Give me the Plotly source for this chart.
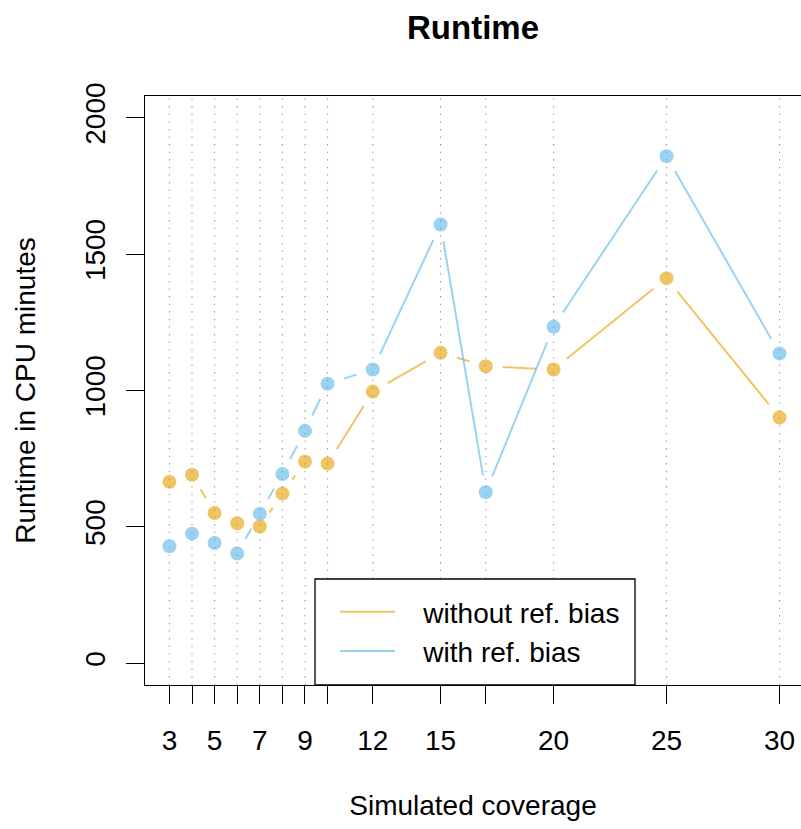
import plotly.graph_objects as go

# Simulated coverage levels and runtimes (CPU minutes)
coverage = [3, 4, 5, 6, 7, 8, 9, 10, 12, 15, 17, 20, 25, 30]
runtime_without_bias = [665, 691, 551, 513, 501, 622, 739, 732, 996, 1138, 1089, 1077, 1412, 901]
runtime_with_bias = [429, 475, 441, 402, 548, 694, 852, 1025, 1077, 1609, 627, 1234, 1859, 1136]
series_names = ["without ref. bias", "with ref. bias"]
series_colors = ["rgba(230,159,0,0.62)", "rgba(86,180,233,0.6)"]

x_tick_labels = ["3", "", "5", "", "7", "", "9", "", "12", "15", "", "20", "25", "30"]
y_ticks = [0, 500, 1000, 1500, 2000]

# Page geometry
W, H = 801, 829
ML, MR, MT, MB = 145, 0, 96, 144
X_RANGE = [1.92, 30.95]
Y_RANGE = [-80, 2080]
PW, PH = W - ML - MR, H - MT - MB
sx = PW / (X_RANGE[1] - X_RANGE[0])
sy = PH / (Y_RANGE[1] - Y_RANGE[0])
GAP = 17  # px left open around each point on the connecting lines
LEGEND_PAD = "\u00a0\u00a0\u00a0"  # space between legend line sample and label


def gapped_segments(xs, ys):
    """Connect points with segments that stop short of each point."""
    gx, gy = [], []
    for (x0, y0), (x1, y1) in zip(zip(xs, ys), zip(xs[1:], ys[1:])):
        dx, dy = (x1 - x0) * sx, (y1 - y0) * sy
        d = (dx * dx + dy * dy) ** 0.5
        if d <= 2 * GAP:
            continue
        ux, uy = dx / d, dy / d
        gx += [x0 + ux * GAP / sx, x1 - ux * GAP / sx, None]
        gy += [y0 + uy * GAP / sy, y1 - uy * GAP / sy, None]
    return gx, gy


fig = go.Figure()
for name, ys, col in zip(series_names, [runtime_without_bias, runtime_with_bias], series_colors):
    lx, ly = gapped_segments(coverage, ys)
    fig.add_trace(go.Scatter(x=lx, y=ly, mode="lines", name=LEGEND_PAD + name,
                             line=dict(color=col, width=2), hoverinfo="skip"))
for name, ys, col in zip(series_names, [runtime_without_bias, runtime_with_bias], series_colors):
    fig.add_trace(go.Scatter(x=coverage, y=ys, mode="markers", name=name, showlegend=False,
                             marker=dict(color=col, size=14, line=dict(width=0))))

shapes = []
for c in coverage:
    shapes.append(dict(type="line", xref="x", yref="paper", x0=c, x1=c, y0=0, y1=1,
                       line=dict(color="rgb(150,150,150)", width=1.1, dash="1.3px,6.3px"),
                       layer="above"))
# legend frame
shapes.append(dict(type="rect", xref="paper", yref="paper",
                   x0=(315 - ML) / PW, x1=(635 - ML) / PW, y0=0, y1=(685 - 579) / PH,
                   fillcolor="white", line=dict(color="black", width=1.3), layer="above"))

font = "Liberation Sans, Arial, Helvetica, sans-serif"
fig.update_layout(
    width=W, height=H,
    margin=dict(l=ML, r=MR, t=MT, b=MB, pad=0),
    plot_bgcolor="white", paper_bgcolor="white",
    font=dict(family=font, size=28, color="black"),
    title=dict(text="<b>Runtime</b>", x=0.5, xref="paper", xanchor="center",
               y=1 - 27 / H, yref="container", yanchor="middle",
               font=dict(size=33, color="black")),
    shapes=shapes,
    showlegend=True,
    legend=dict(x=(335 - ML) / PW, y=(685 - 587) / PH, xanchor="left", yanchor="top",
                bgcolor="rgba(0,0,0,0)", borderwidth=0, font=dict(size=28),
                itemwidth=55, tracegroupgap=0),
    xaxis=dict(range=X_RANGE, tickmode="array", tickvals=coverage, ticktext=x_tick_labels,
               showgrid=False, zeroline=False, showline=True, linecolor="black", linewidth=1.3,
               mirror=True, ticks="outside", ticklen=18, tickwidth=1.3, tickcolor="black",
               ticklabelstandoff=12,
               title=dict(text="Simulated coverage", standoff=40, font=dict(size=28))),
    yaxis=dict(range=Y_RANGE, tickmode="array", tickvals=y_ticks,
               showgrid=False, zeroline=False, showline=True, linecolor="black", linewidth=1.3,
               ticks="outside", ticklen=18, tickwidth=1.3, tickcolor="black", tickangle=-90,
               ticklabelstandoff=10,
               title=dict(text="Runtime in CPU minutes", standoff=35, font=dict(size=28))),
)

fig.write_html("out.html")
